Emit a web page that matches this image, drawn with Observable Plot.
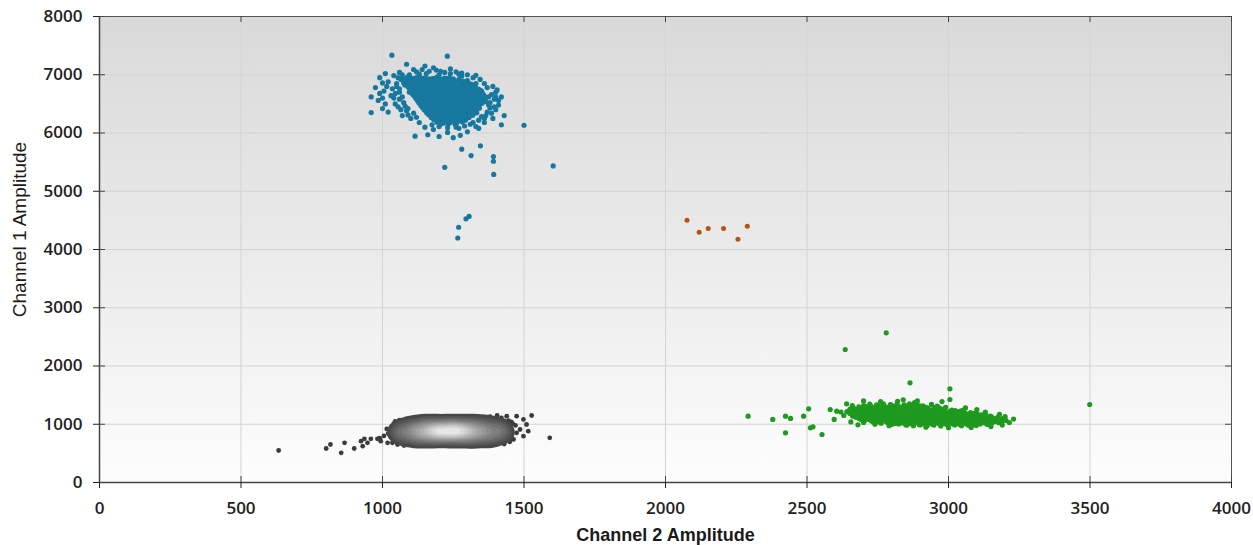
<!DOCTYPE html>
<html>
<head>
<meta charset="utf-8">
<script src="https://cdn.jsdelivr.net/npm/d3@7"></script>
<script src="https://cdn.jsdelivr.net/npm/@observablehq/plot@0.6"></script>
<style>
  html, body { margin: 0; padding: 0; background: #ffffff; }
  #chart { width: 1253px; height: 545px; }
</style>
</head>
<body>
<div id="chart"></div>
<script>
const xLabel = "Channel 2 Amplitude";
const yLabel = "Channel 1 Amplitude";
const xTicks = [0, 500, 1000, 1500, 2000, 2500, 3000, 3500, 4000];
const yTicks = [0, 1000, 2000, 3000, 4000, 5000, 6000, 7000, 8000];

// Channel 1+ / Channel 2- droplets (blue)
const blueDroplets = [
  [1087,6955],[1105,6938],[1131,6962],[1149,6947],[1176,6934],[1193,6958],[1219,6943],[1236,6951],
  [1078,6905],[1097,6918],[1120,6898],[1141,6912],[1163,6921],[1186,6903],[1207,6915],[1228,6896],[1252,6910],[1270,6922],
  [1081,6872],[1109,6861],[1130,6880],[1152,6866],[1173,6875],[1196,6859],[1218,6878],[1240,6868],[1261,6883],[1284,6862],
  [1079,6826],[1098,6838],[1119,6822],[1142,6835],[1164,6829],[1185,6841],[1207,6824],[1229,6833],[1251,6820],[1273,6837],[1296,6828],[1315,6834],
  [1090,6795],[1108,6784],[1131,6797],[1153,6781],[1176,6792],[1197,6786],[1219,6799],[1241,6783],[1262,6794],[1285,6788],[1306,6780],[1327,6796],
  [1096,6748],[1118,6757],[1141,6744],[1163,6752],[1185,6741],[1207,6755],[1230,6747],[1251,6758],[1273,6743],[1295,6751],[1318,6746],[1339,6754],
  [1102,6712],[1126,6703],[1148,6716],[1170,6707],[1191,6719],[1214,6702],[1236,6714],[1258,6706],[1280,6718],[1301,6709],[1323,6700],[1346,6713],
  [1106,6666],[1129,6678],[1152,6664],[1174,6673],[1196,6661],[1218,6676],[1240,6668],[1263,6679],[1284,6663],[1307,6672],[1329,6666],[1351,6677],
  [1112,6634],[1135,6622],[1157,6637],[1179,6626],[1201,6633],[1224,6620],[1246,6636],[1268,6627],[1290,6638],[1312,6624],[1334,6631],[1357,6628],
  [1118,6594],[1140,6583],[1162,6597],[1185,6586],[1207,6599],[1229,6581],[1251,6592],[1274,6585],[1296,6598],[1318,6582],[1340,6590],[1362,6596],
  [1124,6552],[1146,6541],[1168,6558],[1190,6545],[1213,6556],[1235,6543],[1257,6554],[1279,6547],[1302,6559],[1324,6540],[1346,6553],
  [1129,6514],[1152,6503],[1174,6517],[1196,6506],[1218,6512],[1241,6501],[1263,6516],[1285,6505],[1307,6519],[1330,6508],[1352,6511],
  [1136,6466],[1158,6478],[1180,6463],[1203,6474],[1225,6469],[1247,6477],[1269,6462],[1292,6473],[1314,6465],[1336,6476],
  [1142,6433],[1164,6425],[1186,6437],[1209,6422],[1231,6434],[1253,6428],[1275,6439],[1298,6424],[1320,6431],[1342,6426],
  [1148,6394],[1170,6383],[1193,6397],[1215,6386],[1237,6392],[1259,6381],[1282,6395],[1304,6388],[1326,6384],
  [1156,6346],[1178,6357],[1200,6344],[1222,6353],[1245,6348],[1267,6359],[1289,6341],[1311,6352],[1333,6347],
  [1163,6313],[1186,6304],[1208,6316],[1230,6307],[1252,6311],[1275,6302],[1297,6315],[1319,6306],
  [1172,6268],[1194,6276],[1217,6263],[1239,6274],[1261,6266],[1283,6278],[1306,6264],
  [1181,6232],[1204,6224],[1226,6236],[1248,6227],[1270,6233],[1293,6221],
  [1192,6186],[1215,6195],[1237,6183],[1260,6192],[1282,6188],
  [1206,6153],[1231,6144],[1256,6156],
  [1096,6932],[1118,6926],[1140,6935],[1162,6928],[1184,6937],[1206,6925],[1228,6933],[1250,6929],
  [1092,6888],[1114,6894],[1136,6885],[1158,6892],[1180,6887],[1202,6895],[1224,6884],[1246,6891],[1268,6886],[1284,6893],
  [1092,6852],[1118,6846],[1140,6855],[1162,6848],[1184,6853],[1206,6845],[1228,6856],[1250,6849],[1272,6854],[1294,6847],[1306,6852],
  [1100,6808],[1120,6814],[1142,6805],[1164,6812],[1186,6807],[1208,6815],[1230,6806],[1252,6813],[1274,6808],[1296,6814],[1318,6809],
  [1106,6772],[1128,6766],[1150,6775],[1172,6768],[1194,6773],[1216,6765],[1238,6776],[1260,6769],[1282,6774],[1304,6767],[1328,6771],
  [1110,6728],[1132,6734],[1154,6725],[1176,6732],[1198,6727],[1220,6735],[1242,6726],[1264,6733],[1286,6729],[1308,6736],[1330,6727],[1346,6732],
  [1116,6692],[1138,6686],[1160,6695],[1182,6688],[1204,6693],[1226,6685],[1248,6696],[1270,6689],[1292,6694],[1314,6687],[1336,6691],[1352,6694],
  [1122,6648],[1144,6654],[1166,6645],[1188,6652],[1210,6647],[1232,6655],[1254,6646],[1276,6653],[1298,6649],[1320,6656],[1342,6647],[1358,6651],
  [1128,6612],[1150,6606],[1172,6615],[1194,6608],[1216,6613],[1238,6605],[1260,6616],[1282,6609],[1304,6614],[1326,6607],[1348,6611],[1364,6613],
  [1134,6568],[1156,6574],[1178,6565],[1200,6572],[1222,6567],[1244,6575],[1266,6566],[1288,6573],[1310,6569],[1332,6576],[1356,6568],
  [1140,6532],[1162,6526],[1184,6535],[1206,6528],[1228,6533],[1250,6525],[1272,6536],[1294,6529],[1316,6534],[1338,6527],[1354,6531],
  [1146,6488],[1168,6494],[1190,6485],[1212,6492],[1234,6487],[1256,6495],[1278,6486],[1300,6493],[1322,6489],[1344,6494],
  [1152,6452],[1174,6446],[1196,6455],[1218,6448],[1240,6453],[1262,6445],[1284,6456],[1306,6449],[1328,6454],[1340,6447],
  [1158,6408],[1180,6414],[1202,6405],[1224,6412],[1246,6407],[1268,6415],[1290,6406],[1312,6413],[1334,6409],
  [1166,6372],[1188,6366],[1210,6375],[1232,6368],[1254,6373],[1276,6365],[1298,6376],[1320,6369],
  [1174,6328],[1196,6334],[1218,6325],[1240,6332],[1262,6327],[1284,6335],[1306,6326],
  [1182,6292],[1204,6286],[1226,6295],[1248,6288],[1270,6293],[1292,6285],
  [1192,6248],[1214,6254],[1236,6245],[1258,6252],[1280,6247],
  [1200,6212],[1222,6206],[1244,6215],[1266,6208],
  [1214,6168],[1238,6174],[1262,6166],
  [1033,7336],[1229,7319],[1085,7180],[1150,7150],[1180,7120],[1240,7100],[1110,7090],[1205,7060],[1280,7030],[1260,7050],
  [1010,7020],[1060,7040],[1130,7010],[1165,7060],[1300,7000],[990,6950],[1040,6985],[1075,6930],[1020,6880],[975,6780],
  [1050,6850],[1005,6720],[960,6620],[1030,6640],[985,6560],[1045,6500],[1000,6420],[960,6350],[1020,6360],[1070,6300],
  [1090,6420],[1060,6580],[1035,6760],[1095,6700],[1075,6860],[1120,6950],[1100,6800],
  [1400,6700],[1420,6620],[1395,6580],[1410,6480],[1430,6300],[1380,6430],[1365,6540],[1390,6250],[1420,6140],[1360,6180],
  [1340,6080],[1300,6020],[1275,5960],[1250,5920],[1200,5940],[1160,5970],[1115,5945],[1230,6010],[1330,6110],[1370,6360],
  [1345,6640],[1370,6780],[1330,6850],[1300,6900],[1350,6720],[1410,6560],
  [1060,6700],[1070,6620],[1055,6450],[1085,6380],[1100,6250],[1130,6180],[1150,6100],[1180,6060],[1270,6080],[1320,6180],
  [1360,6250],[1375,6480],[1360,6850],[1320,6950],[1280,6980],[1240,7020],[1200,7000],[1155,7020],[1120,7050],[1095,7000],
  [1065,6920],[1050,6800],
  [1365,6300],[1385,6340],[1400,6400],[1380,6520],[1395,6450],[1350,6280],[1340,6220],[1310,6150],[1290,6120],[1260,6100],
  [1230,6090],[1200,6110],[1175,6140],[1400,6620],[1385,6660],[1375,6620],
  [1060,6760],[1045,6680],[1040,6600],[1075,6520],[1080,6460],[1065,6400],[1110,6340],[1120,6270],[1090,6310],[1010,6500],
  [1000,6600],[990,6680],[1015,6800],[1000,6860],[1055,6950],[1070,7000],[1140,7090],[1190,7080],[1220,7040],[1270,7010],
  [1330,6990],[1345,6920],[1390,6800],[1405,6740],
  [1500,6133],[1603,5434],[1220,5410],[1280,5723],[1313,5613],[1346,5780],[1392,5595],[1392,5515],[1393,5289],
  [1306,4567],[1295,4526],[1269,4382],[1266,4197]
];

// Double-negative droplets (gray), dense cluster
const grayCluster = [
  [1102,705],[1125,692],[1148,709],[1174,698],[1196,712],[1221,690],[1245,703],[1268,695],[1293,710],[1316,688],[1341,701],[1366,694],[1384,706],
  [1062,738],[1085,749],[1110,731],[1133,745],[1158,736],[1181,752],[1206,733],[1229,747],[1254,739],[1277,755],[1302,730],[1325,744],[1350,737],[1373,750],[1398,734],[1418,746],
  [1048,783],[1071,772],[1096,789],[1119,776],[1144,785],[1167,770],[1192,788],[1215,778],[1240,791],[1263,774],[1288,784],[1311,769],[1336,787],[1359,777],[1384,790],[1407,773],[1432,782],
  [1041,817],[1064,828],[1089,812],[1112,825],[1137,819],[1160,831],[1185,814],[1208,826],[1233,816],[1256,829],[1281,811],[1304,823],[1329,818],[1352,832],[1377,813],[1400,827],[1425,820],[1445,812],
  [1036,862],[1059,851],[1084,868],[1107,856],[1132,864],[1155,849],[1180,866],[1203,853],[1228,861],[1251,870],[1276,855],[1299,863],[1324,850],[1347,867],[1372,858],[1395,871],[1420,852],[1443,864],
  [1040,898],[1063,909],[1088,893],[1111,905],[1136,897],[1159,911],[1184,894],[1207,906],[1232,899],[1255,890],[1280,908],[1303,896],[1328,910],[1351,892],[1376,903],[1399,897],[1424,911],[1444,895],
  [1047,937],[1070,948],[1095,933],[1118,944],[1143,951],[1166,936],[1191,946],[1214,932],[1239,943],[1262,955],[1287,938],[1310,949],[1335,934],[1358,945],[1383,939],[1406,952],[1431,936],
  [1056,983],[1079,972],[1104,987],[1127,976],[1152,985],[1175,970],[1200,981],[1223,990],[1248,974],[1271,986],[1296,978],[1319,968],[1344,984],[1367,975],[1392,989],[1415,971],[1430,982],
  [1077,1018],[1100,1029],[1125,1014],[1148,1025],[1173,1033],[1196,1016],[1221,1027],[1244,1011],[1269,1024],[1292,1031],[1317,1015],[1340,1026],[1365,1019],[1388,1032],[1411,1013],
  [1122,1058],[1147,1066],[1171,1052],[1196,1069],[1220,1055],[1245,1063],[1270,1050],[1294,1067],[1319,1057],[1343,1064],[1368,1052],
  [1133,803],[1158,796],[1181,808],[1206,799],[1230,806],[1254,794],[1279,802],[1302,809],[1327,797],
  [1112,842],[1136,835],[1161,847],[1185,838],[1209,845],[1233,833],[1258,843],[1282,836],[1306,848],[1331,839],[1354,844],
  [1106,878],[1130,886],[1154,874],[1179,883],[1203,877],[1227,889],[1252,875],[1276,884],[1300,879],[1325,887],[1349,873],[1366,882],
  [1117,918],[1141,926],[1166,914],[1190,923],[1214,917],[1239,928],[1263,915],[1287,924],[1312,919],[1336,927],
  [1147,962],[1171,955],[1196,967],[1220,958],[1244,964],[1269,953],[1293,961],[1318,956],
  [1172,852],[1196,858],[1220,849],[1245,856],[1269,851],[1293,859],
  [1163,893],[1187,899],[1211,891],[1236,897],[1260,888],[1284,896],[1306,892],
  [1183,929],[1207,922],[1232,931],[1256,924],[1280,930],
  [1200,868],[1225,872],[1250,866],[1275,871],
  [1195,908],[1220,912],[1245,906],[1270,911]
];

// Double-negative droplets (gray), sparse edge
const grayScatter = [
  [633,549],[801,584],[816,652],[854,509],[866,681],[900,584],[924,710],[930,624],[947,681],[959,750],
  [936,750],[982,750],[994,710],[1018,681],[1035,681],[1053,652],[1076,635],[1591,767],[1439,1138],[1474,1138],
  [1498,1082],[1527,1150],[1509,996],[1486,910],[1515,881],[1498,795],[1474,853],[1463,739],[1455,1040],[1470,980],
  [1450,700],[1430,660],[1400,650],[1350,655],[1300,660],[1250,650],[1200,665],[1150,660],[1100,670],[1060,700],
  [1030,780],[1020,840],[1015,920],[1040,1010],[1060,1070],[1090,1090],[1180,1095],[1240,1100],[1300,1090],[1350,1095],
  [1390,1080],[1420,1110],[1445,1060],[1460,1010],[1405,1150],[1380,1130],[1025,870],[1005,800],[990,760],[1045,1050]
];

// Channel 2+ droplets (green)
const greenDroplets = [
  [2722,1345],[2746,1332],[2770,1350],[2795,1338],[2818,1347],[2843,1335],[2862,1352],
  [2683,1298],[2707,1309],[2731,1292],[2756,1305],[2780,1296],[2804,1311],[2829,1293],[2853,1303],[2877,1297],[2901,1310],[2921,1291],
  [2652,1262],[2676,1251],[2700,1268],[2725,1256],[2749,1264],[2773,1249],[2798,1266],[2822,1253],[2846,1261],[2871,1270],[2895,1255],[2919,1263],[2944,1250],[2968,1267],[2982,1258],
  [2641,1218],[2665,1229],[2690,1213],[2714,1225],[2738,1217],[2762,1231],[2787,1214],[2811,1226],[2835,1219],[2860,1230],[2884,1212],[2908,1224],[2932,1216],[2957,1228],[2981,1211],[3005,1223],[3030,1215],[3042,1226],
  [2652,1183],[2676,1172],[2700,1188],[2725,1176],[2749,1185],[2773,1170],[2798,1181],[2822,1190],[2846,1174],[2871,1186],[2895,1178],[2919,1169],[2944,1184],[2968,1175],[2992,1189],[3017,1171],[3041,1182],[3065,1176],[3090,1187],[3102,1173],
  [2662,1137],[2686,1148],[2711,1133],[2735,1144],[2759,1151],[2783,1136],[2808,1146],[2832,1132],[2856,1143],[2881,1155],[2905,1138],[2929,1149],[2953,1134],[2978,1145],[3002,1139],[3026,1152],[3051,1136],[3075,1147],[3099,1133],[3124,1144],[3148,1138],
  [2683,1102],[2707,1091],[2731,1108],[2756,1096],[2780,1105],[2804,1090],[2829,1101],[2853,1110],[2877,1094],[2901,1106],[2926,1098],[2950,1089],[2974,1104],[2998,1095],[3023,1109],[3047,1092],[3071,1103],[3095,1097],[3120,1108],[3144,1091],[3168,1102],[3190,1096],
  [2702,1058],[2726,1066],[2750,1052],[2775,1069],[2799,1055],[2823,1063],[2847,1050],[2872,1067],[2896,1057],[2920,1064],[2945,1052],[2969,1061],[2993,1068],[3017,1054],[3042,1063],[3066,1049],[3090,1060],[3114,1067],[3139,1053],[3163,1062],[3187,1056],[3203,1065],
  [2762,1018],[2786,1027],[2811,1013],[2835,1024],[2859,1016],[2883,1029],[2908,1012],[2932,1022],[2956,1030],[2981,1015],[3005,1025],[3029,1011],[3054,1021],[3078,1028],[3102,1014],[3126,1024],[3151,1017],[3178,1026],
  [2852,983],[2876,975],[2900,987],[2925,978],[2949,985],[2973,972],[2998,981],[3022,989],[3046,976],[3071,984],[3098,979],
  [2700,1322],[2724,1316],[2748,1325],[2772,1318],[2796,1327],[2820,1315],[2844,1324],[2868,1319],[2892,1326],[2910,1317],
  [2664,1282],[2688,1276],[2712,1285],[2736,1278],[2760,1287],[2784,1275],[2808,1284],[2832,1279],[2856,1286],[2880,1277],[2904,1283],[2928,1278],[2952,1285],[2968,1280],
  [2652,1238],[2676,1244],[2700,1235],[2724,1242],[2748,1237],[2772,1245],[2796,1236],[2820,1243],[2844,1239],[2868,1246],[2892,1237],[2916,1242],[2940,1236],[2964,1244],[2988,1238],[3012,1243],[3024,1236],
  [2650,1202],[2674,1196],[2698,1205],[2722,1198],[2746,1207],[2770,1195],[2794,1204],[2818,1199],[2842,1206],[2866,1197],[2890,1203],[2914,1198],[2938,1205],[2962,1196],[2986,1204],[3010,1199],[3034,1206],[3058,1197],[3078,1202],
  [2660,1158],[2684,1164],[2708,1155],[2732,1162],[2756,1157],[2780,1165],[2804,1156],[2828,1163],[2852,1159],[2876,1166],[2900,1157],[2924,1162],[2948,1156],[2972,1164],[2996,1158],[3020,1163],[3044,1156],[3068,1164],[3092,1158],[3116,1162],[3132,1157],
  [2672,1122],[2696,1116],[2720,1125],[2744,1118],[2768,1127],[2792,1115],[2816,1124],[2840,1119],[2864,1126],[2888,1117],[2912,1123],[2936,1118],[2960,1125],[2984,1116],[3008,1124],[3032,1119],[3056,1126],[3080,1117],[3104,1123],[3128,1118],[3152,1125],[3174,1120],
  [2692,1078],[2716,1084],[2740,1075],[2764,1082],[2788,1077],[2812,1085],[2836,1076],[2860,1083],[2884,1079],[2908,1086],[2932,1077],[2956,1082],[2980,1076],[3004,1084],[3028,1078],[3052,1083],[3076,1076],[3100,1084],[3124,1078],[3148,1082],[3172,1077],[3196,1083],
  [2732,1042],[2756,1036],[2780,1045],[2804,1038],[2828,1047],[2852,1035],[2876,1044],[2900,1039],[2924,1046],[2948,1037],[2972,1043],[2996,1038],[3020,1045],[3044,1036],[3068,1044],[3092,1039],[3116,1046],[3140,1037],[3164,1043],[3188,1038],
  [2800,998],[2824,1004],[2848,995],[2872,1002],[2896,997],[2920,1005],[2944,996],[2968,1003],[2992,999],[3016,1006],[3040,997],[3064,1002],[3088,996],[3112,1004],[3136,998],[3150,1003],
  [2780,2570],[2635,2283],[2864,1711],[3005,1608],[3499,1339],[3005,1425],[2977,1390],[2292,1138],[2379,1082],[2424,1138],
  [2442,1100],[2424,853],[2488,1138],[2506,1265],[2553,824],[2512,939],[2521,956],[2582,1253],[2605,1224],[2596,1082],
  [2640,1350],[2660,1320],[2655,1040],[2680,990],[2630,1150],[2700,1400],[2760,1390],[2840,1420],[2820,1395],[2880,1370],
  [2940,1340],[2960,1310],[3060,1280],[3100,1250],[3130,1210],[3180,1170],[3200,1130],[3230,1090],[3215,1030],[3190,985],
  [3150,960],[3080,945],[3000,940],[2920,950],[2790,975],[2740,1000],[2870,1010],[3140,1000],[2620,1210],[2700,1030],
  [2890,1400],[2990,1290],[3050,1240]
];

// Double-positive droplets (orange)
const orangeDroplets = [
  [2076,4503],[2119,4297],[2151,4360],[2205,4360],[2256,4177],[2289,4400]
];

const X = d => d[0], Y = d => d[1];
const tickFont = {fontSize: 17, fontWeight: 600, fontFamily: "Open Sans, Liberation Sans, sans-serif"};
const titleFont = "Liberation Sans, Arial, sans-serif";

const svg = Plot.plot({
  width: 1253,
  height: 545,
  marginLeft: 99,
  marginRight: 22,
  marginTop: 16,
  marginBottom: 63,
  x: {domain: [0, 4000]},
  y: {domain: [0, 8000]},
  color: {type: "linear", range: ["#3b3b3b", "#e6e6e6"]},
  style: {background: "#ffffff", overflow: "visible"},
  marks: [
    Plot.frame({fill: "url(#plotBg)", stroke: null}),
    Plot.gridX(xTicks, {stroke: "#d3d3d3", strokeOpacity: 1}),
    Plot.gridY(yTicks, {stroke: "#d3d3d3", strokeOpacity: 1}),
    Plot.dot(blueDroplets, {x: X, y: Y, r: 2.6, fill: "#17789f", stroke: null}),
    Plot.dot(greenDroplets, {x: X, y: Y, r: 2.6, fill: "#1e9a1e", stroke: null}),
    Plot.dot(orangeDroplets, {x: X, y: Y, r: 2.5, fill: "#b4550f", stroke: null}),
    Plot.dot(grayScatter, {x: X, y: Y, r: 2.4, fill: "#3b3b3b", stroke: null}),
    Plot.dot(grayCluster, {x: X, y: Y, r: 2.4, fill: "#3b3b3b", stroke: null}),
    Plot.density(grayCluster, {x: X, y: Y, fill: "density", stroke: null, bandwidth: 3.5, thresholds: 14}),
    Plot.frame({stroke: "#555", strokeWidth: 1}),
    Plot.ruleX([0], {stroke: "#444", strokeWidth: 1.5}),
    Plot.ruleY([0], {stroke: "#444", strokeWidth: 1.5}),
    Plot.tickX(xTicks, {stroke: "#444", insetTop: 460}),
    Plot.tickX(xTicks, {stroke: "#444", insetBottom: 460}),
    Plot.tickY(yTicks, {stroke: "#444", insetRight: 1126}),
    Plot.tickY(yTicks, {stroke: "#444", insetLeft: 1126}),
    Plot.axisX(xTicks, {anchor: "bottom", tickSize: 6, tickPadding: 13, tickFormat: "d", label: null, color: "#222", ...tickFont}),
    Plot.axisY(yTicks, {anchor: "left", tickSize: 6, tickPadding: 11, tickFormat: "d", label: null, color: "#222", ...tickFont}),
    Plot.text([xLabel], {text: d => d, frameAnchor: "bottom", dy: 58, fontSize: 18, fontWeight: "bold", fontFamily: titleFont, fill: "#1a1a1a"}),
    Plot.text([yLabel], {text: d => d, frameAnchor: "left", textAnchor: "middle", rotate: -90, dx: -80, dy: -20, fontSize: 19, fontFamily: titleFont, fill: "#1a1a1a"})
  ]
});

const defs = d3.select(svg).insert("defs", ":first-child");
const grad = defs.append("linearGradient").attr("id", "plotBg")
  .attr("x1", 0).attr("y1", 0).attr("x2", 0).attr("y2", 1);
grad.append("stop").attr("offset", "0%").attr("stop-color", "#d9d9d9");
grad.append("stop").attr("offset", "55%").attr("stop-color", "#ececec");
grad.append("stop").attr("offset", "100%").attr("stop-color", "#fdfdfd");

document.getElementById("chart").appendChild(svg);
</script>
</body>
</html>
